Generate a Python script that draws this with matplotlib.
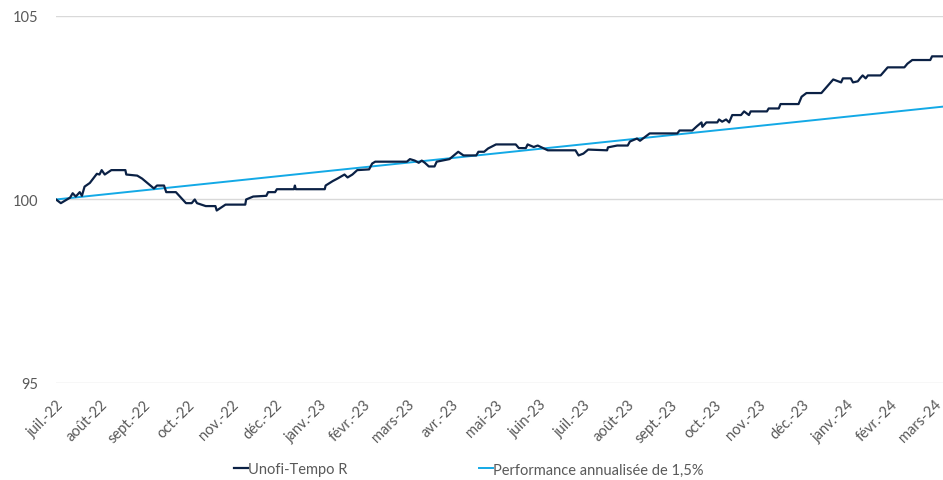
import matplotlib.pyplot as plt

# mois écoulés depuis le 1er juillet 2022 et valeur de la part (base 100)
fund_t = [0.0, 0.11, 0.18, 0.32, 0.38, 0.45, 0.54, 0.59, 0.65, 0.77, 0.93, 0.99, 1.04, 1.11,
          1.26, 1.58, 1.60, 1.85, 1.96, 2.23, 2.30, 2.46, 2.51, 2.73, 2.96, 3.09, 3.16, 3.21,
          3.41, 3.63, 3.66, 3.86, 4.31, 4.33, 4.49, 4.79, 4.83, 4.99, 5.03, 5.42, 5.44, 5.46,
          6.12, 6.14, 6.30, 6.41, 6.57, 6.64, 6.75, 6.86, 7.13, 7.20, 7.27, 7.99, 8.06, 8.17,
          8.26, 8.33, 8.40, 8.49, 8.62, 8.67, 8.96, 9.16, 9.28, 9.57, 9.62, 9.75, 9.84, 10.02,
          10.47, 10.54, 10.70, 10.74, 10.88, 10.97, 11.20, 11.83, 11.90, 12.01, 12.12, 12.55,
          12.57, 12.78, 13.02, 13.07, 13.23, 13.30, 13.52, 14.15, 14.20, 14.49, 14.60, 14.70,
          14.72, 14.81, 15.06, 15.10, 15.17, 15.26, 15.33, 15.40, 15.60, 15.67, 15.78, 15.82,
          16.19, 16.23, 16.46, 16.50, 16.91, 16.98, 17.09, 17.43, 17.54, 17.70, 17.88, 17.92,
          18.10, 18.15, 18.26, 18.31, 18.37, 18.44, 18.49, 18.78, 18.94, 19.32, 19.39, 19.50,
          19.91, 19.95, 20.2]
fund_v = [100.0, 99.9, 99.95, 100.05, 100.17, 100.08, 100.2, 100.1, 100.35, 100.45, 100.7, 100.68,
          100.8, 100.68, 100.8, 100.8, 100.68, 100.65, 100.57, 100.3, 100.38, 100.38, 100.2,
          100.2, 99.9, 99.9, 100.0, 99.9, 99.82, 99.82, 99.7, 99.86, 99.86, 100.0, 100.08,
          100.1, 100.2, 100.2, 100.28, 100.28, 100.38, 100.28, 100.28, 100.38, 100.5, 100.57,
          100.68, 100.6, 100.68, 100.8, 100.82, 100.98, 101.03, 101.03, 101.1, 101.06, 101.0,
          101.06, 101.0, 100.9, 100.9, 101.03, 101.1, 101.3, 101.2, 101.2, 101.3, 101.3, 101.39,
          101.5, 101.5, 101.4, 101.4, 101.5, 101.43, 101.47, 101.34, 101.34, 101.2, 101.25,
          101.36, 101.34, 101.42, 101.47, 101.47, 101.58, 101.66, 101.6, 101.8, 101.8, 101.88,
          101.88, 102.0, 102.1, 101.98, 102.1, 102.1, 102.18, 102.12, 102.18, 102.1, 102.3,
          102.3, 102.4, 102.3, 102.4, 102.4, 102.48, 102.48, 102.6, 102.6, 102.8, 102.9, 102.9,
          103.05, 103.27, 103.19, 103.3, 103.3, 103.19, 103.22, 103.3, 103.38, 103.3, 103.38,
          103.38, 103.6, 103.6, 103.7, 103.8, 103.8, 103.9, 103.9]

# droite de référence : 1,5 % annualisé
ref_t = [0.0, 20.2]
ref_v = [100.0, 102.53]

months = ['juil.-22', 'août-22', 'sept.-22', 'oct.-22', 'nov.-22', 'déc.-22', 'janv.-23',
          'févr.-23', 'mars-23', 'avr.-23', 'mai-23', 'juin-23', 'juil.-23', 'août-23',
          'sept.-23', 'oct.-23', 'nov.-23', 'déc.-23', 'janv.-24', 'févr.-24', 'mars-24']

plt.rcParams['font.family'] = ['Lato', 'DejaVu Sans']
grey = '#595959'

fig = plt.figure(figsize=(9.43, 4.81), dpi=100)
ax = fig.add_axes([0.0594, 0.2017, 0.9406, 0.763])

ax.plot(fund_t, fund_v, color='#0B2145', lw=1.6, label='Unofi-Tempo R', zorder=3)
ax.plot(ref_t, ref_v, color='#13A9E6', lw=1.4, label='Performance annualisée de 1,5%', zorder=2)

ax.set_xlim(0, 20.2)
ax.set_ylim(95, 105)
ax.set_yticks([95, 100, 105])
ax.set_xticks(range(len(months)))
ax.set_xticklabels(months, rotation=45, ha='right', rotation_mode='anchor')
ax.tick_params(axis='both', length=0, colors=grey, labelsize=10.5)
ax.tick_params(axis='y', pad=13)
ax.tick_params(axis='x', pad=10)
ax.yaxis.grid(True, color='#D9D9D9', lw=1)
ax.set_axisbelow(True)
for s in ax.spines.values():
    s.set_visible(False)

fig.legend(loc='lower center', bbox_to_anchor=(0.497, -0.02), ncol=2, frameon=False,
           handlelength=1.0, handletextpad=0.0, columnspacing=9.0, fontsize=10.5,
           labelcolor=grey)

fig.savefig('out.png', dpi=100)
